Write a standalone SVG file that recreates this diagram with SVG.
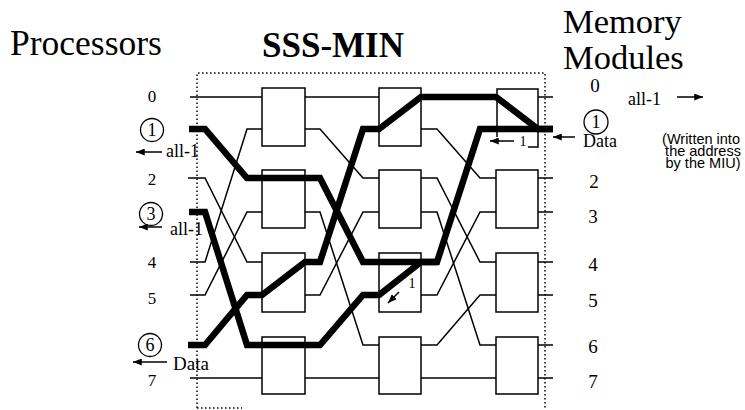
<svg xmlns="http://www.w3.org/2000/svg" width="745" height="410" viewBox="0 0 745 410">
<defs>
<marker id="ah" viewBox="0 0 10 8" refX="10" refY="4" markerWidth="10" markerHeight="7" orient="auto" markerUnits="userSpaceOnUse"><path d="M0,0 L10,4 L0,8 z" fill="#000"/></marker>
<style>
.thin{fill:none;stroke:#000;stroke-width:1.5}
.thick{fill:none;stroke:#000;stroke-width:6.5;stroke-linejoin:miter}
.box{fill:#fff;stroke:#000;stroke-width:1.5}
.dot{fill:none;stroke:#000;stroke-width:1.5;stroke-dasharray:1.5 2.5}
.arr{fill:none;stroke:#000;stroke-width:1.5;marker-end:url(#ah)}
.circ{fill:none;stroke:#000;stroke-width:1.3}
</style>
</defs>
<rect width="745" height="410" fill="#fff"/>

<!-- titles -->
<g font-family="'Liberation Serif', 'Times New Roman', serif" fill="#000">
<text x="10" y="55" font-size="35.5">Processors</text>
<text x="333" y="57" font-size="35" font-weight="bold" text-anchor="middle">SSS-MIN</text>
<text x="563" y="33" font-size="34.5">Memory</text>
<text x="563" y="69" font-size="34.5">Modules</text>
</g>

<!-- network border -->
<path class="dot" d="M197,408 V73 H545 V410"/>
<path class="dot" d="M197,408 H242"/>

<g id="connectors">
<!-- gap A -->
<path class="thin" d="M190,97 H262"/>
<path class="thin" d="M190,129 H205 L247,178 H262"/>
<path class="thin" d="M188,178 H205 L247,262 H262"/>
<path class="thin" d="M190,212 H205 L247,345 H262"/>
<path class="thin" d="M190,262 H205 L247,129 H262"/>
<path class="thin" d="M190,295 H205 L247,212 H262"/>
<path class="thin" d="M190,345 H205 L247,295 H262"/>
<path class="thin" d="M190,378 H262"/>
<!-- gap B -->
<path class="thin" d="M305,97 H379"/>
<path class="thin" d="M305,129 H320 L363,178 H379"/>
<path class="thin" d="M305,178 H320 L363,262 H379"/>
<path class="thin" d="M305,212 H320 L363,345 H379"/>
<path class="thin" d="M305,262 H320 L363,129 H379"/>
<path class="thin" d="M305,295 H320 L363,212 H379"/>
<path class="thin" d="M305,345 H320 L363,295 H379"/>
<path class="thin" d="M305,378 H379"/>
<!-- gap C -->
<path class="thin" d="M421,97 H496"/>
<path class="thin" d="M421,129 H437 L480,178 H496"/>
<path class="thin" d="M421,178 H437 L480,262 H496"/>
<path class="thin" d="M421,212 H437 L480,345 H496"/>
<path class="thin" d="M421,262 H437 L480,129 H496"/>
<path class="thin" d="M421,295 H437 L480,212 H496"/>
<path class="thin" d="M421,345 H437 L480,295 H496"/>
<path class="thin" d="M421,378 H496"/>
<!-- output stubs -->
<path class="thin" d="M538,97 H553 M538,129 H553 M538,178 H553 M538,212 H553 M538,262 H553 M538,295 H553 M538,345 H553 M538,378 H553"/>
</g>

<!-- switch boxes -->
<g id="s1b1"><rect class="box" x="262" y="88" width="43" height="58"/></g>
<g id="s1b2"><rect class="box" x="262" y="170" width="43" height="58"/></g>
<g id="s1b3"><rect class="box" x="262" y="253" width="43" height="59"/></g>
<g id="s1b4"><rect class="box" x="262" y="337" width="43" height="57"/></g>
<g id="s2b1"><rect class="box" x="379" y="88" width="42" height="58"/></g>
<g id="s2b2"><rect class="box" x="379" y="170" width="42" height="58"/></g>
<g id="s2b3"><rect class="box" x="379" y="253" width="42" height="59"/></g>
<g id="s2b4"><rect class="box" x="379" y="337" width="42" height="57"/></g>
<g id="s3b1"><path class="box" d="M497,137 V89 H538 V147 H528"/></g>
<g id="s3b2"><rect class="box" x="496" y="170" width="42" height="58"/></g>
<g id="s3b3"><rect class="box" x="496" y="253" width="42" height="59"/></g>
<g id="s3b4"><rect class="box" x="496" y="337" width="42" height="57"/></g>

<!-- highlighted paths -->
<g id="paths">
<path class="thick" d="M189,129 H205 L247,178 H320 L363,262 H437 L480,129 H553"/>
<path class="thick" d="M189,212 H205 L247,345 H320 L363,295 H379 L421,262 H437"/>
<path class="thick" d="M188,345 H205 L247,295 H262 L305,262 H320 L363,129 H379 L421,97 H496 L538,129 H553"/>
</g>

<g font-family="'Liberation Serif', 'Times New Roman', serif" fill="#000">
<!-- in-switch arrows -->
<g id="arrows">
<line class="arr" x1="399" y1="292" x2="388" y2="303"/>
<text x="412" y="288" font-size="14" text-anchor="middle">1</text>
<line class="arr" x1="514" y1="141" x2="490" y2="141"/>
<text x="523" y="146" font-size="14" text-anchor="middle">1</text>
</g>

<!-- processor labels -->
<g id="processors">
<text x="152" y="102" font-size="17" text-anchor="middle">0</text>
<circle class="circ" cx="152" cy="130" r="11.5"/>
<text x="152" y="136" font-size="18" text-anchor="middle">1</text>
<line class="arr" x1="162" y1="152" x2="136" y2="152"/>
<text x="166" y="157" font-size="18">all-1</text>
<text x="152" y="185" font-size="17" text-anchor="middle">2</text>
<circle class="circ" cx="151" cy="214" r="11.5"/>
<text x="151" y="220" font-size="18" text-anchor="middle">3</text>
<line class="arr" x1="162" y1="227" x2="139" y2="227"/>
<text x="170" y="235" font-size="18">all-1</text>
<text x="152" y="268" font-size="17" text-anchor="middle">4</text>
<text x="152" y="304" font-size="17" text-anchor="middle">5</text>
<circle class="circ" cx="150" cy="345" r="11.5"/>
<text x="150" y="351" font-size="18" text-anchor="middle">6</text>
<line class="arr" x1="167" y1="362" x2="133" y2="362"/>
<text x="173" y="370" font-size="19">Data</text>
<text x="152" y="386" font-size="17" text-anchor="middle">7</text>
</g>

<!-- memory labels -->
<g id="memory">
<text x="595" y="92" font-size="19" text-anchor="middle">0</text>
<text x="628" y="105" font-size="18">all-1</text>
<line class="arr" x1="677" y1="97" x2="703" y2="97"/>
<circle class="circ" cx="596" cy="122" r="12"/>
<text x="596" y="128" font-size="18" text-anchor="middle">1</text>
<line class="arr" x1="575" y1="137" x2="553" y2="137"/>
<text x="583" y="147" font-size="18">Data</text>
<text x="594" y="188" font-size="19" text-anchor="middle">2</text>
<text x="593" y="223" font-size="19" text-anchor="middle">3</text>
<text x="593" y="271" font-size="19" text-anchor="middle">4</text>
<text x="593" y="307" font-size="19" text-anchor="middle">5</text>
<text x="593" y="353" font-size="19" text-anchor="middle">6</text>
<text x="593" y="388" font-size="19" text-anchor="middle">7</text>
</g>
</g>

<g id="note" font-family="'Liberation Sans', Arial, sans-serif" font-size="14.5" fill="#000" text-anchor="middle">
<text x="701" y="144">(Written into</text>
<text x="703" y="156">the address</text>
<text x="703" y="168">by the MIU)</text>
</g>
</svg>
